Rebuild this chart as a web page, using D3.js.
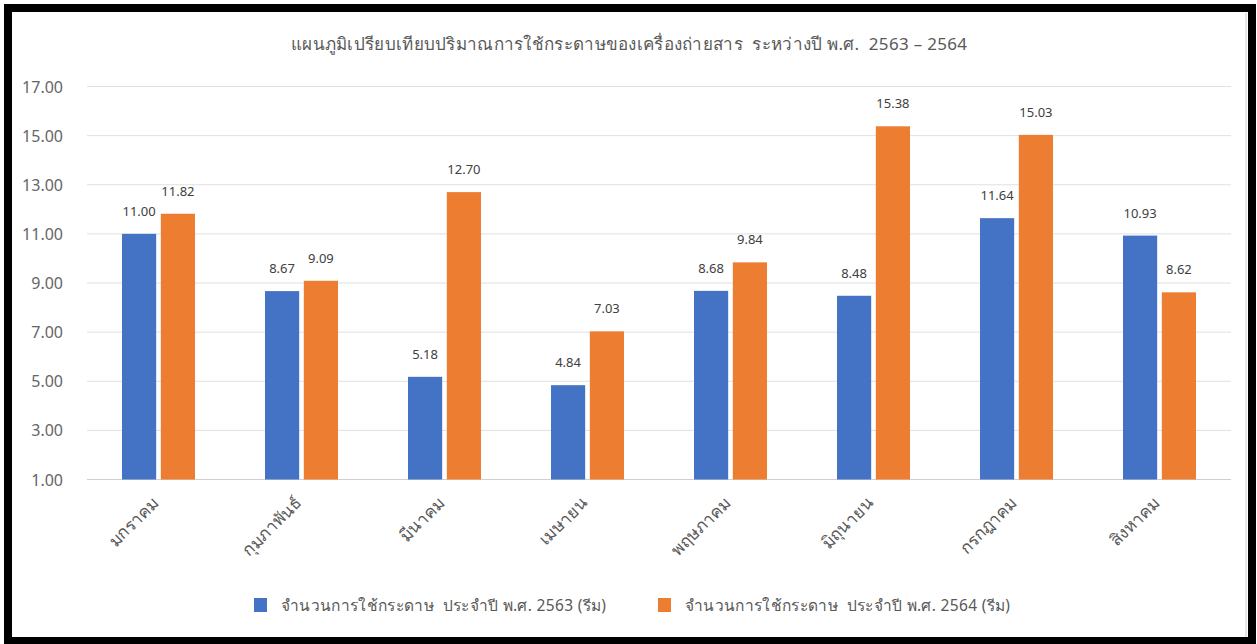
<!DOCTYPE html>
<html>
<head>
<meta charset="utf-8">
<script src="https://cdn.jsdelivr.net/npm/d3@7"></script>
<style>
  body { margin: 0; background: #fff; }
  svg { display: block; font-family: "Noto Sans", "DejaVu Sans", sans-serif; }
  text { white-space: pre; }
</style>
</head>
<body>
<svg id="chart" width="1257" height="644"></svg>
<script>
const months = ["มกราคม", "กุมภาพันธ์", "มีนาคม", "เมษายน", "พฤษภาคม", "มิถุนายน", "กรกฎาคม", "สิงหาคม"];
const values2563 = [11.00, 8.67, 5.18, 4.84, 8.68, 8.48, 11.64, 10.93];
const values2564 = [11.82, 9.09, 12.70, 7.03, 9.84, 15.38, 15.03, 8.62];
const seriesNames = ["จำนวนการใช้กระดาษ  ประจำปี พ.ศ. 2563 (รีม)", "จำนวนการใช้กระดาษ  ประจำปี พ.ศ. 2564 (รีม)"];
const yTicks = [1, 3, 5, 7, 9, 11, 13, 15, 17];
const title = "แผนภูมิเปรียบเทียบปริมาณการใช้กระดาษของเครื่องถ่ายสาร  ระหว่างปี พ.ศ.  2563 – 2564";

const colors = ["#4472C4", "#ED7D31"];
const svg = d3.select("#chart");

// frame
svg.append("rect").attr("x", 8).attr("y", 8).attr("width", 1244).attr("height", 633)
  .attr("fill", "#fff").attr("stroke", "#000").attr("stroke-width", 8);
svg.append("line").attr("x1", 1246).attr("x2", 1246).attr("y1", 13).attr("y2", 637)
  .attr("stroke", "#ccc").attr("stroke-width", 1);

const x = d3.scaleBand().domain(months).range([87, 1231]);
const xs = d3.scaleBand().domain([0, 1]).range([0, 73]).paddingInner(0.12);
const y = d3.scaleLinear().domain([1, 17]).range([479.5, 86.5]);

svg.append("text")
  .attr("x", 629).attr("y", 50)
  .attr("text-anchor", "middle")
  .attr("font-size", 17)
  .attr("textLength", 676)
  .attr("fill", "#595959")
  .text(title);

// gridlines + y labels
svg.selectAll(".grid").data(yTicks).join("line")
  .attr("x1", 87).attr("x2", 1231)
  .attr("y1", d => y(d)).attr("y2", d => y(d))
  .attr("stroke", d => d === 1 ? "#d0d0d0" : "#e0e0e0").attr("stroke-width", 1);

svg.selectAll(".ylab").data(yTicks).join("text")
  .attr("x", 63).attr("y", d => y(d) + 6)
  .attr("text-anchor", "end")
  .attr("font-size", 16)
  .attr("fill", "#666")
  .text(d => d.toFixed(2));

const series = [values2563, values2564];
series.forEach((vals, s) => {
  const g = svg.append("g");
  months.forEach((m, i) => {
    const bx = x(m) + (x.bandwidth() - 73) / 2 + xs(s);
    g.append("rect")
      .attr("x", bx).attr("y", y(vals[i]))
      .attr("width", xs.bandwidth()).attr("height", y(1) - y(vals[i]))
      .attr("fill", colors[s]);
    g.append("text")
      .attr("x", bx + xs.bandwidth() / 2).attr("y", y(vals[i]) - 18)
      .attr("text-anchor", "middle")
      .attr("font-size", 13)
      .attr("fill", "#404040")
      .text(vals[i].toFixed(2));
  });
});

// rotated month labels
svg.selectAll(".xlab").data(months).join("text")
  .attr("transform", d => `translate(${x(d) + x.bandwidth() / 2 + 1},${504}) rotate(-45)`)
  .attr("text-anchor", "end")
  .attr("font-size", 17)
  .attr("fill", "#595959")
  .text(d => d);

// legend
const legX = [254, 658];
seriesNames.forEach((name, s) => {
  svg.append("rect").attr("x", legX[s]).attr("y", 598).attr("width", 13).attr("height", 14)
    .attr("fill", colors[s]);
  svg.append("text").attr("x", legX[s] + 27).attr("y", 611)
    .attr("font-size", 15.5).attr("textLength", 325).attr("fill", "#595959").text(name);
});
</script>
</body>
</html>
